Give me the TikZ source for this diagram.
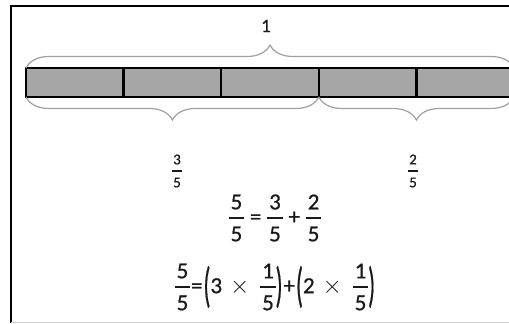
\documentclass[tikz,border=0pt]{standalone}
\usepackage{graphicx}
\usepackage{fontspec}
\setmainfont{Carlito}[FakeBold=0.7]
\usetikzlibrary{positioning, decorations.pathreplacing}
\definecolor{barfill}{RGB}{166,166,166}
\definecolor{bracegray}{RGB}{160,160,160}
\definecolor{framegray}{RGB}{205,205,205}
\definecolor{textdark}{RGB}{25,25,25}

% stacked fraction in the text font
\newlength{\fracwd}
\newcommand{\fracpart}[2]{\ensuremath{\vcenter{\hbox{\settowidth{\fracwd}{#1}\addtolength{\fracwd}{0.15em}%
  \shortstack{#1\\[0.2em]\rule{\fracwd}{0.08em}\\[0.2em]#2}}}}}
\newcommand{\tallparen}[1]{\ensuremath{\vcenter{\hbox{\scalebox{1}[2.1]{#1}}}}}
\newcommand{\timessign}{\ensuremath{\times}}

\begin{document}
\begin{tikzpicture}[
    x=1pt, y=-1pt,
    every node/.style={text=textdark, inner sep=0pt, outer sep=0pt},
    segbox/.style={draw=black, fill=barfill, line width=2.5pt, minimum width=97.6pt, minimum height=29pt},
    bracket/.style={draw=bracegray, line width=1.2pt, decorate, decoration={brace, amplitude=23pt}},
    eqtext/.style={font=\fontsize{23}{27}\selectfont},
    small/.style={font=\fontsize{15}{18}\selectfont}
]
\useasboundingbox (0,0) rectangle (509,324);
\clip (0,0) rectangle (509,324);

% frame
\draw[black, line width=2pt] (11,323) -- (11,6) -- (509,6);
\draw[framegray, line width=1pt] (11,322.5) -- (509,322.5);

% ========== bar of five fifths ==========
\foreach \i in {1,...,5}
  \node[segbox] (seg\i) at ({26+97.6*(\i-0.5)}, 82.5) {};

% ========== braces ==========
\draw[bracket] (seg1.north west) -- (seg5.north east);
\draw[bracket] (seg3.south east) -- (seg1.south west);
\draw[bracket] (seg5.south east) -- (seg4.south west);

% ========== labels ==========
\node[font=\fontsize{19}{22}\selectfont] (whole) at (266,26) {1};
\node[small] (partA) at (177,171) {\fracpart{3}{5}};
\node[small] (partB) at (413,171) {\fracpart{2}{5}};

% ========== equations ==========
\node[eqtext] (sumeq) at (275,218)
  {\fracpart{5}{5}\kern6pt=\kern6pt\fracpart{3}{5}\kern6pt+\kern6pt\fracpart{2}{5}};
\node[eqtext, below=22pt of sumeq] (uniteq)
  {\fracpart{5}{5}\kern1pt=\kern1pt\tallparen{(}3\kern8pt\timessign\kern11pt\fracpart{1}{5}\tallparen{)}\kern1pt+\kern1pt\tallparen{(}2\kern8pt\timessign\kern11pt\fracpart{1}{5}\tallparen{)}};

\end{tikzpicture}
\end{document}
